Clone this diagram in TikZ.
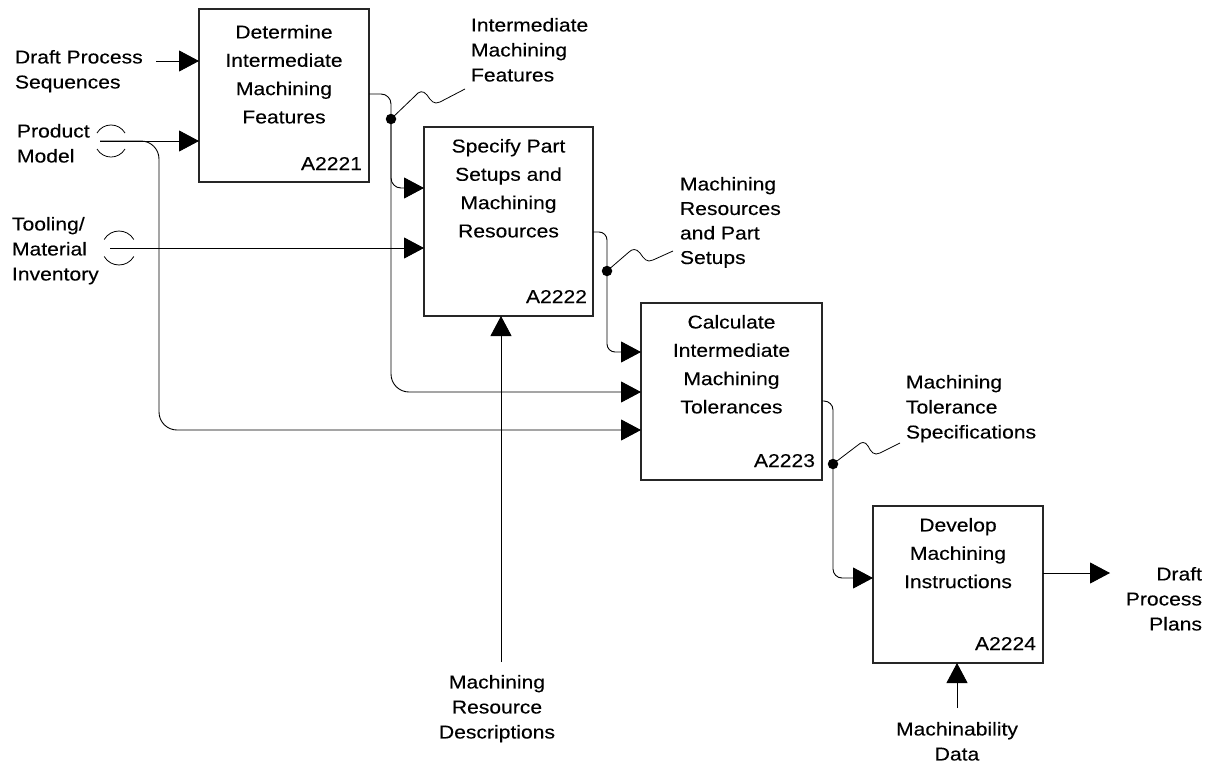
\documentclass[tikz,border=0pt]{standalone}
\usepackage{fontspec}
\setmainfont{Liberation Sans}[FakeStretch=1.134,FakeBold=0.15]
\usetikzlibrary{arrows.meta,calc}

\begin{document}
\begin{tikzpicture}[x=1pt,y=-1pt,
  every node/.style={inner sep=0pt, outer sep=0pt},
  lbl/.style={font=\fontsize{18.6}{25}\selectfont},
  boxtitle/.style={font=\fontsize{18.6}{28.3}\selectfont, align=center, anchor=north},
  boxid/.style={font=\fontsize{18.6}{25}\selectfont, anchor=base east},
  box/.style={draw=black!85, line width=1.2pt, anchor=north west},
  flow/.style={line width=0.9pt, -{Triangle[length=20pt,width=21pt]}},
  note/.style={line width=0.8pt},
  dot/.style={circle, fill=black, minimum size=10.5pt},
  tunnelmark/.pic={
    \draw[line width=0.8pt] (-14,-8) .. controls (-7.7,-18.7) and (7.7,-18.7) .. (14,-8);
    \draw[line width=0.8pt] (-14,8) .. controls (-7.7,18.7) and (7.7,18.7) .. (14,8);
  }]

\fill[white] (0,0) rectangle (1215,766);
\useasboundingbox (0,0) rectangle (1215,766);

% activity boxes
\node[box, minimum width=170pt, minimum height=173pt] (b1) at (199,9) {};
\node[box, minimum width=169pt, minimum height=189pt] (b2) at (424,127) {};
\node[box, minimum width=181pt, minimum height=177pt] (b3) at (641,303) {};
\node[box, minimum width=170pt, minimum height=157pt] (b4) at (873,506) {};

\node[boxtitle] (b1t) at ($(b1.north)+(0,16)$) {Determine\\Intermediate\\Machining\\Features};
\node[boxtitle] (b2t) at ($(b2.north)+(0,12)$) {Specify Part\\Setups and\\Machining\\Resources};
\node[boxtitle] (b3t) at ($(b3.north)+(0,12)$) {Calculate\\Intermediate\\Machining\\Tolerances};
\node[boxtitle] (b4t) at ($(b4.north)+(0,12)$) {Develop\\Machining\\Instructions};

\node[boxid] (b1id) at ($(b1.south east)+(-7,-12)$) {A2221};
\node[boxid] (b2id) at ($(b2.south east)+(-6,-13)$) {A2222};
\node[boxid] (b3id) at ($(b3.south east)+(-7,-13)$) {A2223};
\node[boxid] (b4id) at ($(b4.south east)+(-7,-13)$) {A2224};

% ports on the boxes
\coordinate (p1a) at ($(b1.north west)+(0,52)$);
\coordinate (p1b) at ($(b1.north west)+(0,132)$);
\coordinate (p2a) at ($(b2.north west)+(0,61)$);
\coordinate (p2b) at ($(b2.north west)+(0,121)$);
\coordinate (p3a) at ($(b3.north west)+(0,49)$);
\coordinate (p3b) at ($(b3.north west)+(0,89)$);
\coordinate (p3c) at ($(b3.north west)+(0,127)$);
\coordinate (p4a) at ($(b4.north west)+(0,72)$);
\coordinate (o1) at ($(b1.north east)+(0,85)$);
\coordinate (o2) at ($(b2.north east)+(0,105)$);
\coordinate (o3) at ($(b3.north east)+(0,98)$);
\coordinate (o4) at ($(b4.north east)+(0,67)$);

% external labels
\node[lbl, anchor=north west, align=left] (lds) at (15,50) {Draft Process\\Sequences};
\node[lbl, anchor=north west, align=left] (lpm) at (17,124) {Product\\Model};
\node[lbl, anchor=north west, align=left] (ltm) at (12,217) {Tooling/\\Material\\Inventory};
\node[lbl, anchor=north west, align=left] (lf1) at (471,18) {Intermediate\\Machining\\Features};
\node[lbl, anchor=north west, align=left, font=\fontsize{18.6}{24.5}\selectfont] (lf2) at (680,177) {Machining\\Resources\\and Part\\Setups};
\node[lbl, anchor=north west, align=left] (lf3) at (906,375) {Machining\\Tolerance\\Specifications};
\node[lbl, anchor=north east, align=right] (lout) at (1202,567) {Draft\\Process\\Plans};
\node[lbl, anchor=north, align=center] (lmd) at (957,722) {Machinability\\Data};
\node[lbl, anchor=north, align=center] (lmr) at (497,675) {Machining\\Resource\\Descriptions};

% free ends of the boundary arrows
\coordinate (ids) at (156,61);
\coordinate (ipm) at (100,141);
\coordinate (itm) at (110,248);
\coordinate (cmr) at (501,662);
\coordinate (cmd) at (957,708);
\coordinate (xout) at (1110,573);

% tunnelled arrows
\pic at (111,141) {tunnelmark};
\pic[scale=1.06] at (119,248) {tunnelmark};

% inputs
\draw[flow] (ids) -- (p1a);
\draw[flow] (ipm) -- (p1b);
\draw[flow, rounded corners=18pt] (ipm) -- (159,141) -- (159,430) -- (p3c);
\draw[flow] (itm) -- (p2b);

% controls
\draw[flow] (cmr) -- (b2.south -| cmr);
\draw[flow] (cmd) -- (b4.south -| cmd);

% junction dots
\node[dot] (j1) at (391,119) {};
\node[dot] (j2) at (607,271) {};
\node[dot] (j3) at (833,464) {};

% box outputs
\draw[flow, rounded corners=10pt] (o1) -| (j1.center) |- (p2a);
\draw[flow, rounded corners=18pt] (j1.center) |- (p3b);
\draw[flow, rounded corners=8pt] (o2) -| (j2.center) |- (p3a);
\draw[flow, rounded corners=9pt] (o3) -| (j3.center) |- (p4a);
\draw[flow] (o4) -- (xout);

% squiggles to the output labels
\coordinate (s1) at (465,89);
\coordinate (s2) at (673,251);
\coordinate (s3) at (900,443);
\draw[note] (j1.center) -- (415,96) .. controls (419,91) and (423,90) .. (427,95)
  .. controls (431,101) and (434,105) .. (440,102) -- (s1);
\draw[note] (j2.center) -- (629,252) .. controls (632,249) and (636,248) .. (640,253)
  .. controls (644,259) and (647,263) .. (653,260) -- (s2);
\draw[note] (j3.center) -- (858,445) .. controls (861,442) and (865,441) .. (868,446)
  .. controls (871,452) and (874,456) .. (880,453) -- (s3);

\end{tikzpicture}
\end{document}
